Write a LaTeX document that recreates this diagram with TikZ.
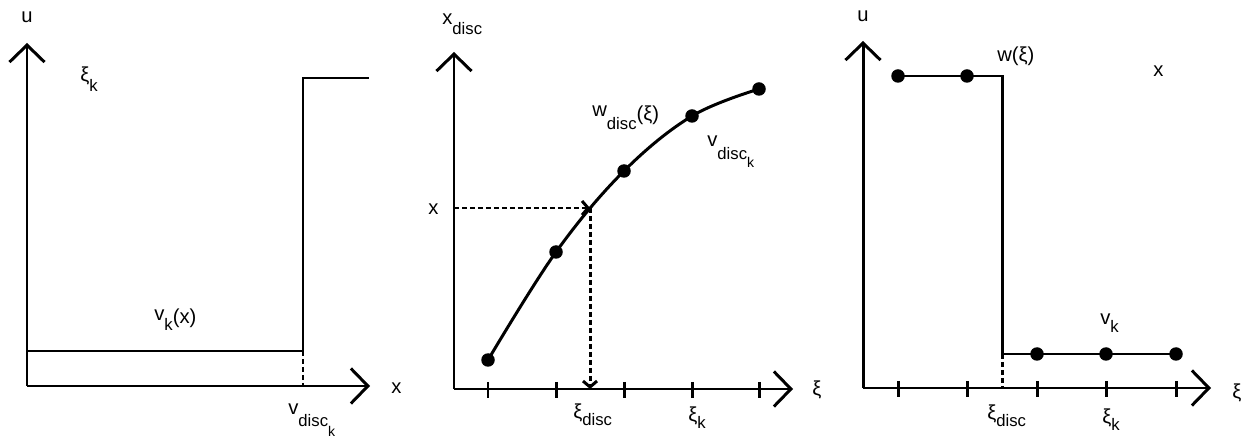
\documentclass[tikz,border=0pt]{standalone}
\usepackage{fontspec}
\setmainfont{Liberation Sans}
\usetikzlibrary{arrows.meta}

% subindices bajados (texto casi del mismo tamano)
\newcommand{\lo}[2][6pt]{\raisebox{-#1}{\fontsize{9.5}{10}\selectfont #2}}
\newcommand{\lolo}[2][5pt]{\raisebox{-#1}{\fontsize{8}{8}\selectfont #2}}

\tikzset{
  eje/.style={line width=1.7pt, -{Straight Barb[length=3.4mm,width=7mm]}},
  linea/.style={line width=1.7pt},
  guia/.style={line width=1.7pt, dash pattern=on 1mm off 0.6mm},
  guiaflecha/.style={guia, -{Straight Barb[length=1.2mm,width=2.8mm]}},
  punto/.style={circle, fill, inner sep=0pt, minimum size=2.7mm},
  etiq/.style={anchor=base west, inner sep=0pt, font=\fontsize{11.5}{13}\selectfont},
}

\begin{document}
\begin{tikzpicture}[x=0.02cm, y=-0.02cm]
    \useasboundingbox (0,0) rectangle (1244,438);

    % ---------- Panel 1: u frente a x ----------
    \coordinate (o1) at (27,386);
    \coordinate (u1) at (27,43);
    \coordinate (x1) at (370,386);
    \draw[eje] (o1) -- (u1);
    \draw[eje] (o1) -- (x1);

    % escalon
    \coordinate (s1a) at (27,351);
    \coordinate (s1b) at (303,351);
    \coordinate (s1c) at (303,78);
    \coordinate (s1d) at (369,78);
    \coordinate (s1e) at (303,386);
    \draw[linea] (s1a) -- (s1b) -- (s1c) -- (s1d);
    \draw[guia] (s1b) -- (s1e);

    % etiquetas
    \node[etiq] (lu1) at (21,23) {u};
    \node[etiq] (lx1) at (391,394) {x};
    \node[etiq] (lxik1) at (80,82) {ξ\lo[5.5pt]{k}};
    \node[etiq] (lvk1) at (154,321) {v\lo[5.5pt]{k}\raisebox{-1.5pt}{(x)}};
    \node[etiq] (lvd1) at (288,415) {v\lo[6.5pt]{disc\lolo[5.5pt]{k}}};

    % ---------- Panel 2: x_disc frente a xi ----------
    \coordinate (o2) at (454,389);
    \coordinate (u2) at (454,52);
    \coordinate (x2) at (793,389);
    \draw[eje] (o2) -- (u2);
    \draw[eje] (o2) -- (x2);

    % marcas del eje xi
    \foreach \t in {488,556,624,692,759}
        \draw[linea] (\t,382) -- (\t,398);

    % puntos y curva
    \coordinate (c1) at (488,360);
    \coordinate (c2) at (556,252);
    \coordinate (c3) at (624,171);
    \coordinate (c4) at (692,116);
    \coordinate (c5) at (759,89);
    \draw[linea] plot[smooth, tension=0.6] coordinates {(c1) (c2) (c3) (c4) (c5)};
    \foreach \c in {c1,c2,c3,c4,c5}
        \node[punto] (n\c) at (\c) {};

    % lectura x -> curva -> xi_disc
    \coordinate (hx) at (454,208);
    \coordinate (hc) at (590,208);
    \coordinate (hb) at (590,389);
    \draw[guiaflecha] (hx) -- (hc);
    \draw[guiaflecha] (hc) -- (hb);

    % etiquetas
    \node[etiq] (lu2) at (442,25) {x\lo[5.5pt]{disc}};
    \node[etiq] (lx2) at (428,215) {x};
    \node[etiq] (lw2) at (592,117) {w\lo[7pt]{disc}\raisebox{-2pt}{(ξ)}};
    \node[etiq] (lvd2) at (707,147) {v\lo[7pt]{disc\lolo[4.5pt]{k}}};
    \node[etiq] (lxid2) at (573,419) {ξ\lo[3.5pt]{disc}};
    \node[etiq] (lxik2) at (688,422) {ξ\lo[3.5pt]{k}};
    \node[etiq] (lxi2) at (812,396) {ξ};

    % ---------- Panel 3: u frente a xi ----------
    \coordinate (o3) at (863,388);
    \coordinate (u3) at (863,41);
    \coordinate (x3) at (1211,388);
    \draw[eje] (o3) -- (u3);
    \draw[eje] (o3) -- (x3);

    % marcas del eje xi
    \foreach \t in {898,967,1037,1106,1176}
        \draw[linea] (\t,381) -- (\t,397);

    % escalon con puntos
    \coordinate (q1) at (898,76);
    \coordinate (q2) at (967,76);
    \coordinate (q3) at (1037,354);
    \coordinate (q4) at (1106,354);
    \coordinate (q5) at (1176,354);
    \coordinate (qa) at (1002,76);
    \coordinate (qb) at (1002,354);
    \coordinate (qc) at (1002,388);
    \draw[linea] (q1) -- (qa) -- (qb) -- (q5);
    \draw[guia] (qb) -- (qc);
    \foreach \q in {q1,q2,q3,q4,q5}
        \node[punto] (n\q) at (\q) {};

    % etiquetas
    \node[etiq] (lu3) at (857,22) {u};
    \node[etiq] (lw3) at (997,62) {w(ξ)};
    \node[etiq] (lx3) at (1153,77) {x};
    \node[etiq] (lvk3) at (1100,325) {v\lo[4.5pt]{k}};
    \node[etiq] (lxid3) at (987,420) {ξ\lo[3.5pt]{disc}};
    \node[etiq] (lxik3) at (1102,424) {ξ\lo[3.5pt]{k}};
    \node[etiq] (lxi3) at (1232,399) {ξ};
\end{tikzpicture}
\end{document}
